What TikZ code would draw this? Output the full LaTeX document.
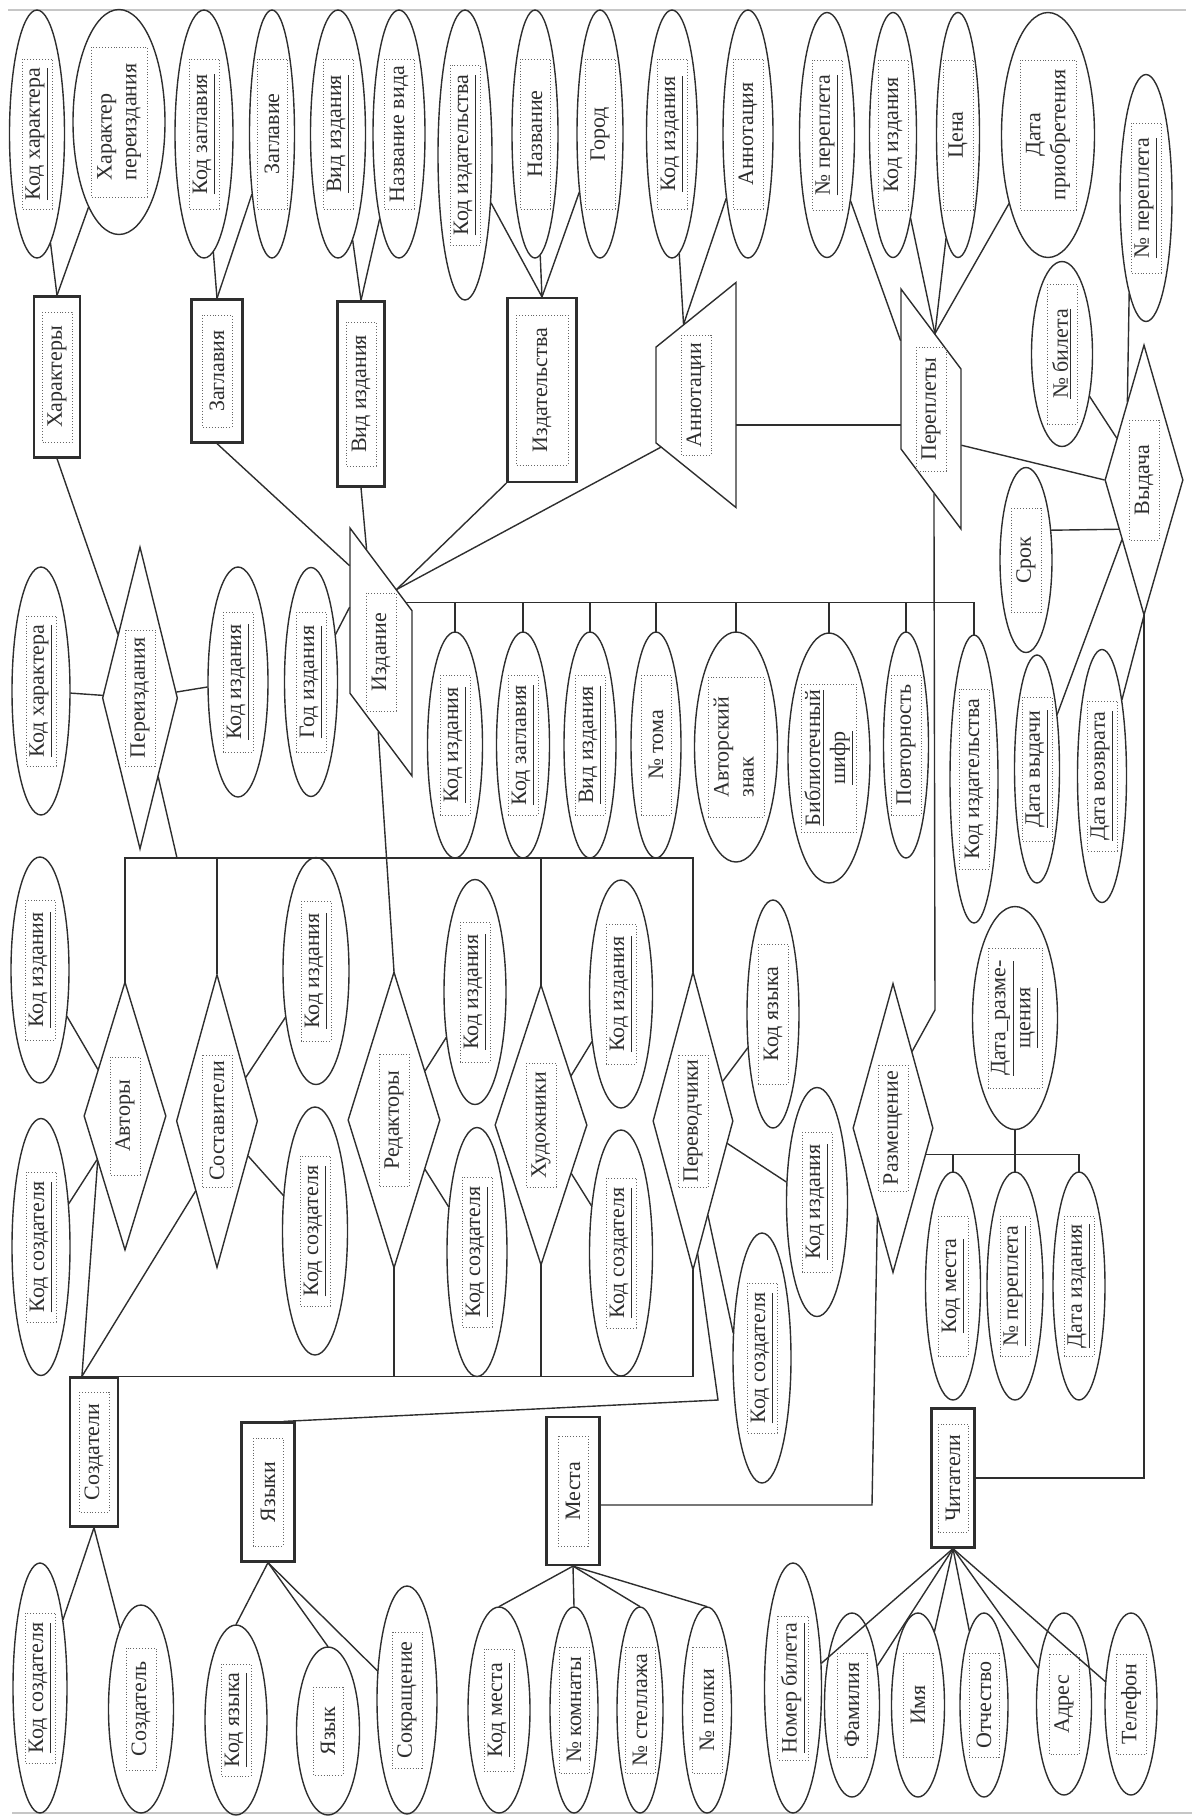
\documentclass[tikz,border=0pt]{standalone}
\usepackage{fontspec}
\setmainfont{Liberation Serif}
\usetikzlibrary{shapes.geometric}

% dotted text frame, turned to read upwards, with no size of its own
\NewDocumentCommand\fr{O{75pt} O{15pt} m}{%
  \makebox[0pt]{\smash{\tikz[baseline=(current bounding box.center)]
    \node[shape=rectangle, rotate=90, draw=black!60, densely dotted, line width=0.45pt,
      inner sep=1.5pt, minimum width=#1, minimum height=#2, align=center] {#3};}}}
\newcommand\twol[2]{\begin{tabular}{@{}l@{}}#1\\#2\end{tabular}}

\begin{document}
\begin{tikzpicture}[
    x=0.5pt, y=-0.5pt, color=black!82, line width=0.7pt,
    every node/.style={font=\fontsize{11}{12.5}\selectfont},
    attr/.style 2 args={ellipse, draw, inner sep=0pt, minimum width=#1, minimum height=#2},
    ent/.style 2 args={rectangle, draw, line width=1.1pt, inner sep=0pt, minimum width=#1, minimum height=#2},
    rel/.style 2 args={diamond, draw, inner sep=0pt, minimum width=#1, minimum height=#2},
    weak/.style 2 args={trapezium, draw, shape border rotate=90, trapezium stretches=true,
      inner sep=1pt, minimum width=#1, minimum height=#2},
]
\useasboundingbox (0,0) rectangle (1192,1816);
\draw[gray!45] (8,10) -- (1186,10);
\draw[gray!45] (12,1813) -- (1192,1813);

% upper row of attributes
\node[attr={27.5pt}{124pt}] (kodhar) at (37,134) {\fr{\underline{Код характера}}};
\node[attr={46pt}{112.5pt}] (harper) at (119,122) {\fr[75pt][28pt]{\twol{Характер}{переиздания}}};
\node[attr={29pt}{124pt}] (kodzag) at (204,134) {\fr{\underline{Код заглавия}}};
\node[attr={22.5pt}{124pt}] (zag) at (272,134) {\fr{Заглавие}};
\node[attr={27.5pt}{124pt}] (vidizd) at (338,134) {\fr{\underline{Вид издания}}};
\node[attr={26pt}{124pt}] (nazvid) at (399,134) {\fr{Название вида}};
\node[attr={27pt}{145pt}] (kodizdt) at (465,155) {\fr[90pt]{\underline{Код издательства}}};
\node[attr={23pt}{124pt}] (nazv) at (535,134) {\fr{Название}};
\node[attr={23pt}{124pt}] (gorod) at (600,134) {\fr{Город}};
\node[attr={25.5pt}{124pt}] (kodizdA) at (672,134) {\fr{\underline{Код издания}}};
\node[attr={25pt}{124pt}] (annot) at (748,134) {\fr{Аннотация}};
\node[attr={27.5pt}{122.5pt}] (nper) at (827,135) {\fr{\underline{№ переплета}}};
\node[attr={23.5pt}{122.5pt}] (kodizdP) at (893,135) {\fr{Код издания}};
\node[attr={21.5pt}{122.5pt}] (cena) at (958,135) {\fr{Цена}};
\node[attr={46.5pt}{122.5pt}] (datpr) at (1048,135) {\fr[75pt][28pt]{Дата\\приобретения}};
\node[attr={26pt}{123.5pt}] (nper2) at (1146,198) {\fr{\underline{№ переплета}}};
\node[attr={30.5pt}{92.5pt}] (nbil) at (1062,354) {\fr[70pt]{\underline{№ билета}}};

% entities of the upper part
\node[ent={23pt}{80.5pt}] (har) at (57,377) {\fr[65pt]{Характеры}};
\node[ent={25.5pt}{71.5pt}] (zagl) at (217,371) {\fr[56pt]{Заглавия}};
\node[ent={23.5pt}{92.5pt}] (vidb) at (361,394) {\fr[72pt]{Вид издания}};
\node[ent={34.5pt}{92pt}] (izdat) at (542,390) {\fr[75pt][26pt]{Издательства}};
\node[weak={112.5pt}{40pt}, trapezium left angle=56, trapezium right angle=56] (annotT) at (696,395) {\fr[60pt]{Аннотации}};
\node[weak={120pt}{30pt}, trapezium left angle=45, trapezium right angle=135] (pereplT) at (931,409) {\fr[62pt]{Переплеты}};
\node[weak={124pt}{31pt}, trapezium left angle=45, trapezium right angle=135] (izdT) at (381,652) {\fr[59pt]{Издание}};

% Переиздания
\node[rel={37.5pt}{151pt}] (pereizd) at (140,698) {\fr[68pt]{Переиздания}};
\node[attr={29pt}{124pt}] (kodhar2) at (41,691) {\fr{\underline{Код характера}}};
\node[attr={30pt}{115pt}] (kodizd2) at (238,682) {\fr[70pt]{\underline{Код издания}}};
\node[attr={26.5pt}{114.5pt}] (godizd) at (311,682) {\fr[70pt]{\underline{Год издания}}};

% attributes of Издание
\node[attr={27.5pt}{113pt}] (a1) at (455,745) {\fr[70pt]{\underline{Код издания}}};
\node[attr={26.5pt}{113pt}] (a2) at (523,745) {\fr[70pt]{\underline{Код заглавия}}};
\node[attr={26pt}{113pt}] (a3) at (590,745) {\fr[70pt]{\underline{Вид издания}}};
\node[attr={25pt}{113pt}] (a4) at (656,745) {\fr[70pt]{№ тома}};
\node[attr={41.5pt}{115pt}] (a5) at (736,747) {\fr[70pt][26pt]{\twol{Авторский}{знак}}};
\node[attr={41pt}{125pt}] (a6) at (829,758) {\fr[74pt][26pt]{\underline{Библиотечный}\\\underline{шифр}}};
\node[attr={22.5pt}{113pt}] (a7) at (906,745) {\fr[70pt]{Повторность}};
\node[attr={24pt}{144pt}] (a8) at (974,779) {\fr[90pt]{Код издательства}};

% Выдача
\node[rel={39pt}{135pt}] (vyd) at (1144,480) {\fr[60pt]{Выдача}};
\node[attr={26pt}{92.5pt}] (srok) at (1026,560) {\fr[52pt]{Срок}};
\node[attr={22.5pt}{114pt}] (datvyd) at (1037,769) {\fr[72pt]{\underline{Дата выдачи}}};
\node[attr={24.5pt}{126.5pt}] (datvoz) at (1102,776) {\fr[75pt]{\underline{Дата возврата}}};

% relationships of Создатели
\node[rel={41pt}{134pt}] (avt) at (125,1116) {\fr[59pt]{Авторы}};
\node[rel={40.5pt}{146.5pt}] (sost) at (217,1121) {\fr[66pt]{Составители}};
\node[rel={46pt}{148pt}] (red) at (394,1120) {\fr[66pt]{Редакторы}};
\node[rel={46pt}{140pt}] (hud) at (541,1125) {\fr[62pt]{Художники}};
\node[rel={40pt}{149pt}] (perev) at (693,1121) {\fr[66pt]{Переводчики}};
\node[rel={40pt}{144.5pt}] (razm) at (893,1128) {\fr[63pt]{Размещение}};

\node[attr={29pt}{113pt}] (kodizd3) at (40,970) {\fr[70pt]{\underline{Код издания}}};
\node[attr={29pt}{128.5pt}] (kodsoz1) at (41,1247) {\fr[75pt]{\underline{Код создателя}}};
\node[attr={33pt}{113.5pt}] (kodizd4) at (316,971) {\fr[70pt]{\underline{Код издания}}};
\node[attr={32.5pt}{124pt}] (kodsoz2) at (315,1231) {\fr[75pt]{\underline{Код создателя}}};
\node[attr={31pt}{112.5pt}] (kodizd5) at (475,992) {\fr[70pt]{\underline{Код издания}}};
\node[attr={30pt}{124.5pt}] (kodsoz3) at (477,1252) {\fr[75pt]{\underline{Код создателя}}};
\node[attr={31.5pt}{114pt}] (kodizd6) at (621,994) {\fr[70pt]{\underline{Код издания}}};
\node[attr={31.5pt}{123pt}] (kodsoz4) at (621,1253) {\fr[75pt]{\underline{Код создателя}}};
\node[attr={26pt}{114pt}] (kodyaz) at (773,1014) {\fr[70pt]{Код языка}};
\node[attr={30.5pt}{114.5pt}] (kodizd7) at (817,1202) {\fr[70pt]{\underline{Код издания}}};
\node[attr={29pt}{125pt}] (kodsoz5) at (762,1358) {\fr[75pt]{\underline{Код создателя}}};

% attributes of Размещение
\node[attr={42.5pt}{111.5pt}] (datraz) at (1015,1018) {\fr[70pt][26pt]{\underline{Дата\_разме-}\\\underline{щения}}};
\node[attr={27.5pt}{114pt}] (kodmes) at (953,1286) {\fr[70pt]{\underline{Код места}}};
\node[attr={28pt}{114pt}] (nper3) at (1015,1286) {\fr[70pt]{\underline{№ переплета}}};
\node[attr={26pt}{114pt}] (datizd) at (1079,1286) {\fr[70pt]{\underline{Дата издания}}};

% entities of the lower part
\node[ent={24pt}{74.5pt}] (soz) at (94,1452) {\fr[60pt]{Создатели}};
\node[ent={26.5pt}{69.5pt}] (yaz) at (268,1492) {\fr[54pt]{Языки}};
\node[ent={26.5pt}{74pt}] (mest) at (573,1491) {\fr[55pt]{Места}};
\node[ent={21.5pt}{69.5pt}] (chit) at (953,1478) {\fr[54pt]{Читатели}};

\node[attr={27pt}{125pt}] (kodsoz6) at (40,1688) {\fr{\underline{Код создателя}}};
\node[attr={32.5pt}{104pt}] (sozd) at (141,1709) {\fr[61pt]{Создатель}};
\node[attr={31pt}{95pt}] (kodyaz2) at (236,1720) {\fr[56pt]{\underline{Код языка}}};
\node[attr={31.5pt}{84pt}] (yazyk) at (328,1731) {\fr[44pt]{Язык}};
\node[attr={30pt}{114pt}] (sokr) at (407,1700) {\fr[68pt]{Сокращение}};
\node[attr={31pt}{103pt}] (kodmes2) at (499,1710) {\fr[61pt]{\underline{Код места}}};
\node[attr={24pt}{103pt}] (nkom) at (574,1710) {\fr[63pt]{№ комнаты}};
\node[attr={23pt}{103pt}] (nstel) at (640,1710) {\fr[63pt]{№ стеллажа}};
\node[attr={24.5pt}{103pt}] (npol) at (707,1710) {\fr[63pt]{№ полки}};
\node[attr={28.5pt}{125pt}] (nombil) at (793,1688) {\fr[72pt]{\underline{Номер билета}}};
\node[attr={27.5pt}{92pt}] (fam) at (852,1705) {\fr[52pt]{Фамилия}};
\node[attr={26.5pt}{92pt}] (imya) at (918,1705) {\fr[52pt]{Имя}};
\node[attr={24pt}{92pt}] (otch) at (984,1705) {\fr[52pt]{Отчество}};
\node[attr={27.5pt}{91pt}] (adr) at (1064,1704) {\fr[50pt]{Адрес}};
\node[attr={26pt}{91pt}] (tel) at (1131,1704) {\fr[50pt]{Телефон}};

% links of the upper entities
\draw (kodhar) -- (har.north);
\draw (harper) -- (har.north);
\draw (kodzag) -- (zagl.north);
\draw (zag) -- (zagl.north);
\draw (vidizd) -- (vidb.north);
\draw (nazvid) -- (vidb.north);
\draw (kodizdt) -- (izdat.north);
\draw (nazv) -- (izdat.north);
\draw (gorod) -- (izdat.north);
\draw (kodizdA) -- (annotT.100);
\draw (annot) -- (annotT.100);
\draw (nper) -- (pereplT.114);
\foreach \a in {kodizdP,cena,datpr}
  \draw (\a) -- (pereplT.87);

% links to Издание
\draw (zagl.south) -- (izdT.110);
\draw (vidb.south) -- (izdT.98);
\draw (izdat.south west) -- (izdT.76);
\draw (annotT.236) -- (izdT.76);
\draw (godizd) -- (izdT.125);
\draw ([yshift=-15pt]annotT.east) -- ([yshift=-8pt]pereplT.west);
\draw (izdT.63) -- (izdT.63 -| a8.north);
\foreach \a in {a1,a2,a3,a4,a5,a6,a7,a8}
  \draw (\a.north) -- (\a.north |- izdT.63);

% Переиздания and the upper bus
\draw (kodhar2) -- (pereizd);
\draw (pereizd) -- (kodizd2);
\draw (har.south) -- (pereizd);
\coordinate (busA) at (177,858);
\draw (busA) -- (pereizd);
\draw (avt.north) -- (avt.north |- busA) -- (perev.north |- busA) -- (perev.north);
\foreach \r in {sost,hud}
  \draw (\r.north) -- (\r.north |- busA);
\draw (izdT.268) -- (red.north);

% lower bus from Создатели
\draw (soz.north east) -- (perev.south |- soz.north east) -- (perev.south);
\foreach \r in {red,hud}
  \draw (\r.south) -- (\r.south |- soz.north east);
\draw ([xshift=6.5pt]soz.north west) -- (avt.239);
\draw ([xshift=6.5pt]soz.north west) -- (sost.253);

\draw (kodizd3) -- (avt);
\draw (kodsoz1) -- (avt);
\draw (sost) -- (kodizd4);
\draw (sost) -- (kodsoz2);
\draw (red) -- (kodizd5);
\draw (red) -- (kodsoz3);
\draw (hud) -- (kodizd6);
\draw (hud) -- (kodsoz4);
\draw (perev) -- (kodyaz);
\draw (perev) -- (kodizd7);
\draw (perev.-81) -- (kodsoz5.139);
\coordinate (yazK) at (718,1400);
\draw ([xshift=-6pt]yaz.north east) -- (yazK) -- (perev.-88);

% Размещение
\coordinate (razmK) at (935,1010);
\draw (pereplT.272) -- (razmK) -- (razm.76);
\draw (razm.-39) -- (razm.-39 -| datizd.north) -- (datizd.north);
\foreach \a in {kodmes,nper3}
  \draw (\a.north) -- (\a.north |- razm.-39);
\draw (datraz.south) -- (datraz.south |- razm.-39);
\coordinate (mestK) at (872,1505);
\draw ([yshift=-7pt]mest.east) -- (mestK) -- (razm.260);

% Выдача
\draw (pereplT.-50) -- (vyd.west);
\draw (nbil) -- (vyd);
\draw (nper2.260) -- (vyd.102);
\draw (srok.50) -- (vyd.243);
\draw (datvyd) -- (vyd);
\draw (datvoz) -- (vyd.south);
\draw (vyd.south) -- (vyd.south |- chit.east) -- (chit.east);

% attributes of the lower entities
\foreach \a in {nombil,fam,imya,otch,adr,tel}
  \draw (chit.south) -- (\a);
\foreach \a in {kodmes2,nkom,nstel,npol}
  \draw (mest.south) -- (\a.north);
\draw (yaz.south) -- (kodyaz2.north);
\draw (yaz.south) -- (yazyk.north);
\draw (yaz.south) -- (sokr);
\draw (soz.south) -- (kodsoz6);
\draw (soz.south) -- (sozd);

\end{tikzpicture}
\end{document}
